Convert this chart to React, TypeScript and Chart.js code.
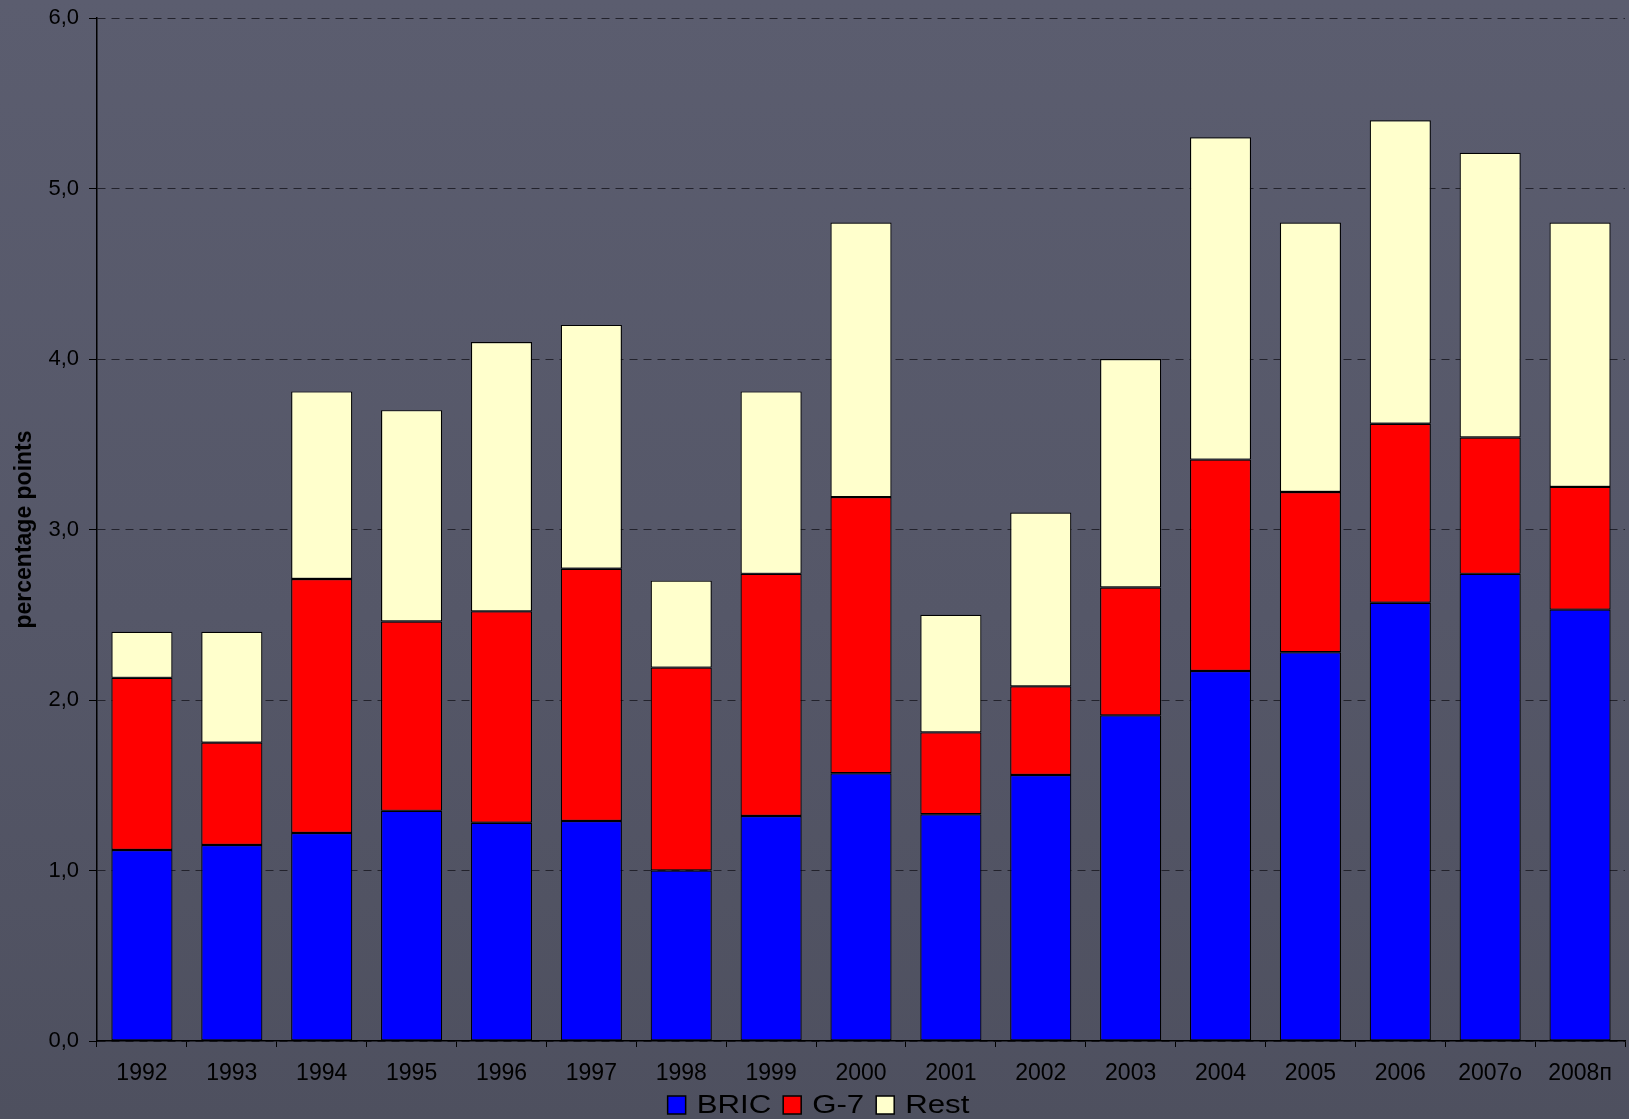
import React, { useEffect, useRef } from "react";
import { Chart, registerables } from "chart.js";

Chart.register(...registerables);

const categories = ["1992", "1993", "1994", "1995", "1996", "1997", "1998", "1999", "2000", "2001", "2002", "2003", "2004", "2005", "2006", "2007о", "2008п"];
const bric = [1.12, 1.15, 1.22, 1.35, 1.28, 1.29, 1.0, 1.32, 1.57, 1.33, 1.56, 1.91, 2.17, 2.28, 2.57, 2.74, 2.53];
const g7 = [1.01, 0.6, 1.49, 1.11, 1.24, 1.48, 1.19, 1.42, 1.62, 0.48, 0.52, 0.75, 1.24, 0.94, 1.05, 0.8, 0.72];
const rest = [0.27, 0.65, 1.1, 1.24, 1.58, 1.43, 0.51, 1.07, 1.61, 0.69, 1.02, 1.34, 1.89, 1.58, 1.78, 1.67, 1.55];
const seriesNames = ["BRIC", "G-7", "Rest"];
const seriesColors = ["#0000ff", "#ff0000", "#ffffcc"];
const yMin = 0;
const yMax = 6;
const yStep = 1;
const yTitle = "percentage points";

const FONT = "'Liberation Sans', Arial, sans-serif";
const W = 1629;
const H = 1119;

const legendPlugin = {
  id: "customLegend",
  afterDraw(chart: any) {
    const { ctx } = chart;
    const ds = chart.data.datasets;
    const fontSize = 26;
    const stretch = 1.2;
    const box = 18;
    const gapText = 11;
    const gapItem = 12;
    ctx.save();
    ctx.font = `${fontSize}px ${FONT}`;
    const textW = ds.map((d: any) => ctx.measureText(d.label).width * stretch);
    const widths = textW.map((t: number) => box + gapText + t);
    const total = widths.reduce((a: number, b: number) => a + b, 0) + gapItem * (ds.length - 1);
    const center = chart.width / 2 + 4;
    let x = center - total / 2;
    const boxTop = 1096;
    ds.forEach((d: any, i: number) => {
      ctx.fillStyle = d.backgroundColor;
      ctx.fillRect(x, boxTop, box, box);
      ctx.lineWidth = 1.5;
      ctx.strokeStyle = "#000";
      ctx.strokeRect(x, boxTop, box, box);
      ctx.fillStyle = "#000";
      ctx.textBaseline = "alphabetic";
      ctx.textAlign = "left";
      ctx.save();
      ctx.translate(x + box + gapText, boxTop + box - 1);
      ctx.scale(stretch, 1);
      ctx.fillText(d.label, 0, 0);
      ctx.restore();
      x += widths[i] + gapItem;
    });
    ctx.restore();
  },
};

export default function App() {
  const ref = useRef<HTMLCanvasElement | null>(null);

  useEffect(() => {
    document.body.style.margin = "0";
    document.body.style.overflow = "hidden";
    const canvas = ref.current!;
    const data = [bric, g7, rest];
    const chart = new Chart(canvas, {
      type: "bar",
      data: {
        labels: categories,
        datasets: data.map((vals, i) => ({
          label: seriesNames[i],
          data: vals,
          backgroundColor: seriesColors[i],
          borderColor: "#000",
          borderWidth: 1.2,
          borderSkipped: false,
          barPercentage: 0.68,
          categoryPercentage: 1,
        })),
      },
      options: {
        responsive: false,
        animation: false,
        devicePixelRatio: 1,
        layout: { padding: { left: 0, top: 18, right: 4, bottom: 0 } },
        plugins: {
          legend: { display: false },
          tooltip: { enabled: false },
        },
        scales: {
          x: {
            stacked: true,
            afterFit: (s: any) => {
              s.height = 78;
            },
            grid: {
              offset: true,
              drawOnChartArea: true,
              color: (c: any) => (c.index === categories.length ? "#22222c" : "rgba(0,0,0,0)"),
              tickColor: "#000",
              tickLength: 6,
              lineWidth: 1,
            },
            border: { display: true, color: "#000", width: 1.5, dash: [8, 6] },
            ticks: {
              color: "#000",
              font: { family: FONT, size: 23 },
              padding: 13,
              maxRotation: 0,
              autoSkip: false,
            },
          },
          y: {
            stacked: true,
            min: yMin,
            max: yMax,
            afterFit: (s: any) => {
              s.width = 97;
              s.paddingTop = 0;
              s.paddingBottom = 0;
            },
            grid: {
              color: "#22222c",
              tickColor: "#000",
              tickLength: 8,
              lineWidth: 1,
            },
            border: { display: true, color: "#000", width: 1.5, dash: [8, 6] },
            ticks: {
              stepSize: yStep,
              color: "#000",
              font: { family: FONT, size: 22 },
              padding: 10,
              callback: (v: any) => Number(v).toFixed(1).replace(".", ","),
            },
            title: {
              display: true,
              text: yTitle,
              color: "#000",
              font: { family: FONT, size: 23, weight: "bold" },
              padding: { top: 11, bottom: 0 },
            },
          },
        },
      },
      plugins: [legendPlugin],
    });
    return () => chart.destroy();
  }, []);

  return (
    <div
      style={{
        position: "absolute",
        left: 0,
        top: 0,
        width: W,
        height: H,
        background: "linear-gradient(180deg, #5b5d6f 0%, #555768 55%, #4e505f 100%)",
      }}
    >
      <canvas ref={ref} width={W} height={H} style={{ width: W, height: H, display: "block" }} />
    </div>
  );
}
